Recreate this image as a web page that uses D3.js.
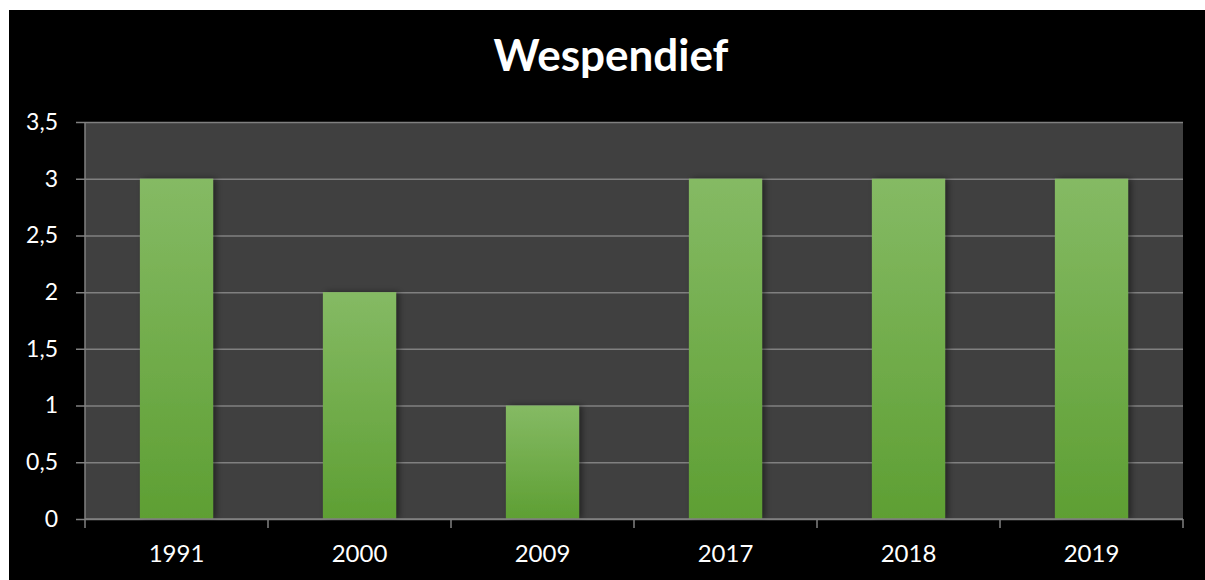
<!DOCTYPE html>
<html>
<head>
<meta charset="utf-8">
<script src="https://cdn.jsdelivr.net/npm/d3@7"></script>
<style>
  body { margin: 0; background: #fff; }
  svg { display: block; }
</style>
</head>
<body>
<svg></svg>
<script>
const years = ["1991", "2000", "2009", "2017", "2018", "2019"];
const counts = [3, 2, 1, 3, 3, 3];
const yTicks = [0, 0.5, 1, 1.5, 2, 2.5, 3, 3.5];

const width = 1205;
const height = 580;
const plot = {left: 85, right: 1183, top: 122, bottom: 519};

const svg = d3.select("svg")
    .attr("width", width)
    .attr("height", height);

const defs = svg.append("defs");
const grad = defs.append("linearGradient")
    .attr("id", "barGrad")
    .attr("x1", 0).attr("y1", 0).attr("x2", 0).attr("y2", 1);
grad.append("stop").attr("offset", "0%").attr("stop-color", "#85ba64");
grad.append("stop").attr("offset", "100%").attr("stop-color", "#5e9f33");

const shadow = defs.append("filter")
    .attr("id", "shadow")
    .attr("x", "-20%").attr("y", "-5%").attr("width", "140%").attr("height", "110%");
shadow.append("feDropShadow")
    .attr("dx", 3).attr("dy", 0)
    .attr("stdDeviation", 3)
    .attr("flood-color", "#000")
    .attr("flood-opacity", 0.45);

// black chart area
svg.append("rect")
    .attr("x", 9).attr("y", 10)
    .attr("width", width - 9).attr("height", height - 10)
    .attr("fill", "#000");

const xScale = d3.scaleBand()
    .domain(years)
    .range([plot.left, plot.right])
    .paddingInner(0.6)
    .paddingOuter(0.3);

const xBoundary = d3.scaleBand()
    .domain(years)
    .range([plot.left, plot.right]);

const yScale = d3.scaleLinear()
    .domain([0, 3.5])
    .range([plot.bottom, plot.top]);

svg.append("rect")
    .attr("x", plot.left).attr("y", plot.top)
    .attr("width", plot.right - plot.left)
    .attr("height", plot.bottom - plot.top)
    .attr("fill", "#404040");

const fmt = d => String(d).replace(".", ",");

// y axis with gridlines
const yAxis = d3.axisLeft(yScale)
    .tickValues(yTicks)
    .tickFormat(fmt)
    .tickSize(-(plot.right - plot.left))
    .tickPadding(27);

const yG = svg.append("g")
    .attr("transform", `translate(${plot.left},0)`)
    .call(yAxis);
yG.select(".domain").remove();
yG.selectAll(".tick line")
    .attr("x1", -9)
    .attr("stroke", "#808080")
    .attr("stroke-width", 1.5);
yG.selectAll(".tick text")
    .attr("fill", "#fff")
    .style("font-family", "Lato, 'Open Sans', sans-serif")
    .style("font-size", "23px");

svg.append("line")
    .attr("x1", plot.left).attr("x2", plot.left)
    .attr("y1", plot.top).attr("y2", plot.bottom)
    .attr("stroke", "#808080").attr("stroke-width", 1.5);

// bars
svg.append("g")
  .selectAll("rect")
    .data(years)
    .enter()
    .append("rect")
    .attr("x", d => xScale(d))
    .attr("width", xScale.bandwidth())
    .attr("y", (d, i) => yScale(counts[i]))
    .attr("height", (d, i) => plot.bottom - yScale(counts[i]))
    .attr("fill", "url(#barGrad)")
    .attr("filter", "url(#shadow)");

// x axis
const xG = svg.append("g")
    .attr("transform", `translate(0,${plot.bottom})`);
xG.append("line")
    .attr("x1", plot.left).attr("x2", plot.right)
    .attr("stroke", "#808080").attr("stroke-width", 1.5);
xG.selectAll(".bound")
    .data(years.concat(["end"]))
    .enter()
    .append("line")
    .attr("x1", (d, i) => i < years.length ? xBoundary(d) : plot.right)
    .attr("x2", (d, i) => i < years.length ? xBoundary(d) : plot.right)
    .attr("y1", 0).attr("y2", 9)
    .attr("stroke", "#808080").attr("stroke-width", 1.5);
xG.selectAll(".lbl")
    .data(years)
    .enter()
    .append("text")
    .attr("x", d => xBoundary(d) + xBoundary.bandwidth() / 2)
    .attr("y", 43)
    .attr("text-anchor", "middle")
    .attr("fill", "#fff")
    .style("font-family", "Lato, 'Open Sans', sans-serif")
    .style("font-size", "24px")
    .text(d => d);

svg.append("text")
    .attr("x", 611)
    .attr("y", 71)
    .attr("text-anchor", "middle")
    .attr("fill", "#fff")
    .style("font-family", "Lato, 'Open Sans', sans-serif")
    .style("font-weight", "bold")
    .style("font-size", "44px")
    .text("Wespendief");
</script>
</body>
</html>
